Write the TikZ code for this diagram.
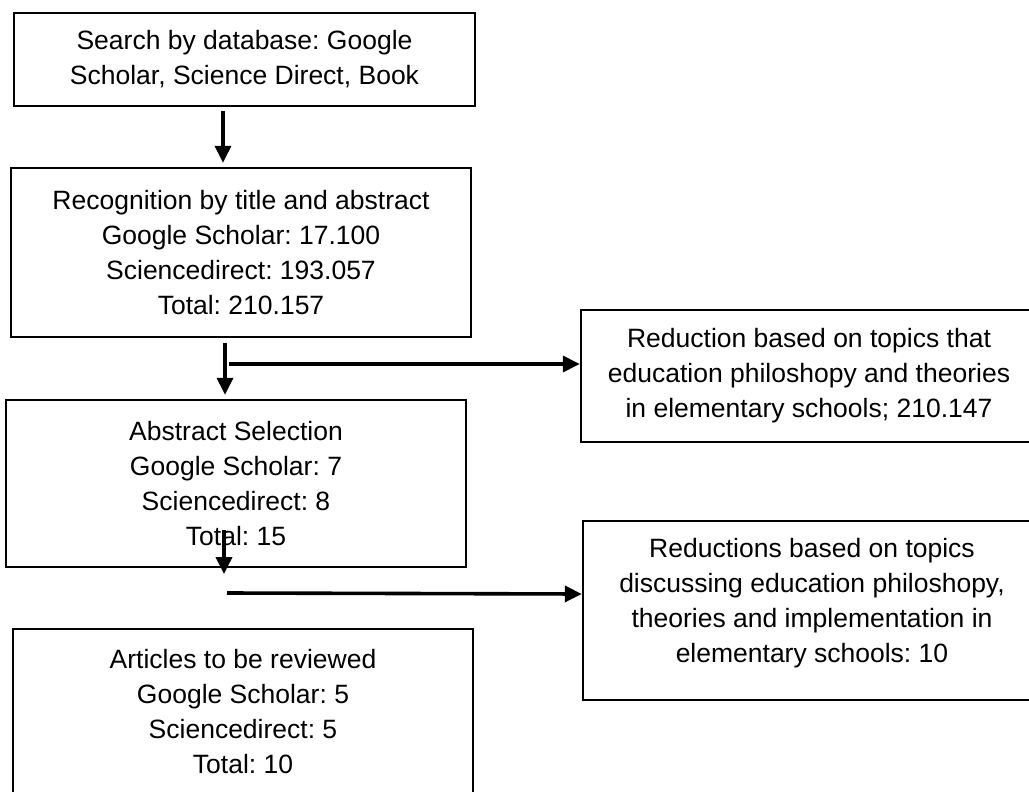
\documentclass[tikz,border=0pt]{standalone}
\usepackage{fontspec}
\setmainfont{Liberation Sans}
\frenchspacing
\usetikzlibrary{arrows.meta}
\tikzset{
  box/.style={draw, line width=2.4pt, inner sep=0pt, align=center,
    font=\fontsize{26.5}{35}\selectfont, text=black},
  arr/.style={line width=3.6pt, -{Triangle[length=17pt,width=16pt]}},
}
\begin{document}
\begin{tikzpicture}[x=1pt,y=-1pt]
\useasboundingbox (0,0) rectangle (1029,792);
\clip (0,0) rectangle (1029,792);
\node[box, minimum width=461pt, minimum height=93pt] (b1) at (244.5,59.5)
  {Search by database: Google\\Scholar, Science Direct, Book};
\node[box, minimum width=460pt, minimum height=169pt] (b2) at (241,252.5)
  {Recognition by title and abstract\\Google Scholar: 17.100\\Sciencedirect: 193.057\\Total: 210.157};
\node[box, minimum width=460pt, minimum height=167pt] (b3) at (236,483.5)
  {Abstract Selection\\Google Scholar: 7\\Sciencedirect: 8\\Total: 15};
\node[box, minimum width=460pt, minimum height=165pt] (b4) at (243,711.5)
  {Articles to be reviewed\\Google Scholar: 5\\Sciencedirect: 5\\Total: 10};
\node[box, minimum width=456pt, minimum height=132pt] (r1) at (809,376)
  {Reduction based on topics that\\education philoshopy and theories\\in elementary schools; 210.147};
\node[box, minimum width=458pt, minimum height=179pt] (r2) at (812,610.5)
  {Reductions based on topics\\discussing education philoshopy,\\theories and implementation in\\elementary schools: 10\rule[-21pt]{0pt}{21pt}};
% free ends of connectors
\coordinate (h1) at (229,364);
\coordinate (v3s) at (224,530);
\coordinate (v3e) at (224,574);
\coordinate (h2) at (227,593);
% connectors
\draw[arr] ([xshift=-21.5pt,yshift=-4pt]b1.south) -- ([xshift=-18pt,yshift=4pt]b2.north);
\draw[arr] ([xshift=-16pt,yshift=-5pt]b2.south) -- ([xshift=-11pt,yshift=4pt]b3.north);
\draw[arr] (h1) -- (r1.west |- h1);
\draw[arr] (v3s) -- (v3e);
\draw[arr] (h2) -- ([yshift=16.5pt]r2.west);
\end{tikzpicture}
\end{document}
